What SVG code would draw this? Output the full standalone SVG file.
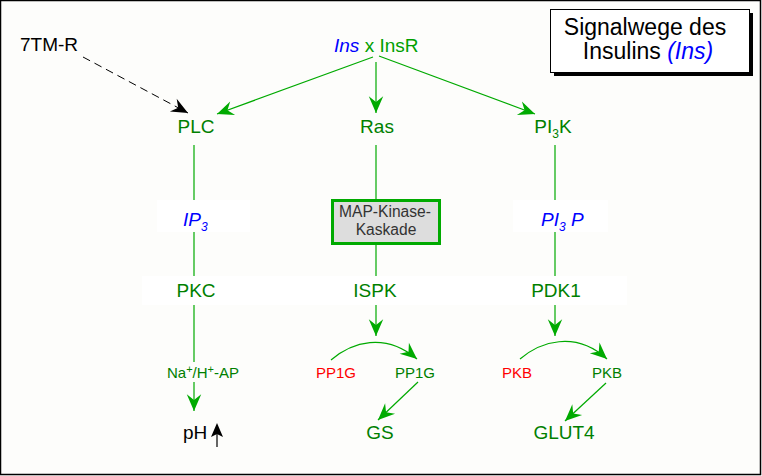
<svg xmlns="http://www.w3.org/2000/svg" width="762" height="476" viewBox="0 0 762 476">
<defs>
<style>
.t{font-family:"Liberation Sans",Arial,sans-serif;}
.g{fill:#008000;font-size:19px;text-anchor:middle;}
.s{font-size:15px;text-anchor:middle;}
.blue{fill:#0000ff;font-style:italic;}
.ln{stroke:#00aa00;stroke-width:1.2;fill:none;}
.lw{fill:#ffffff;}
</style>
<marker id="ag" markerUnits="userSpaceOnUse" markerWidth="20" markerHeight="20" viewBox="-16 -8 18 16" refX="0" refY="0" orient="auto">
<path d="M0,0 L-15,-6.5 L-10,0 L-15,6.5 Z" fill="#00aa00"/>
</marker>
<marker id="ab" markerUnits="userSpaceOnUse" markerWidth="20" markerHeight="20" viewBox="-16 -8 18 16" refX="0" refY="0" orient="auto">
<path d="M0,0 L-15,-6.5 L-10,0 L-15,6.5 Z" fill="#000000"/>
</marker>
</defs>
<rect x="0" y="0" width="762" height="476" fill="#fdfdfb"/>
<rect x="0.5" y="0.5" width="760" height="474" fill="none" stroke="#000" stroke-width="1.5"/>

<g id="connectors">
<line class="ln" x1="373" y1="57" x2="217" y2="114" marker-end="url(#ag)"/>
<line class="ln" x1="376" y1="62" x2="376" y2="113" marker-end="url(#ag)"/>
<line class="ln" x1="379" y1="56" x2="535" y2="114" marker-end="url(#ag)"/>
<line x1="83" y1="57" x2="188" y2="113" stroke="#000" stroke-width="1" stroke-dasharray="8,5" marker-end="url(#ab)"/>
<line class="ln" x1="194" y1="145" x2="194" y2="362"/>
<line class="ln" x1="194" y1="382" x2="194" y2="411" marker-end="url(#ag)"/>
<line class="ln" x1="376" y1="145" x2="376" y2="336" marker-end="url(#ag)"/>
<line class="ln" x1="555" y1="145" x2="555" y2="336" marker-end="url(#ag)"/>
<path class="ln" d="M331,360 C352,342 385,332 417,359" marker-end="url(#ag)"/>
<path class="ln" d="M520,359 C540,342 575,330 607,359" marker-end="url(#ag)"/>
<line class="ln" x1="418" y1="382" x2="378" y2="420" marker-end="url(#ag)"/>
<line class="ln" x1="606" y1="383" x2="565" y2="421" marker-end="url(#ag)"/>
<line x1="217" y1="447" x2="217" y2="430" stroke="#000" stroke-width="1.2"/>
<path d="M217,423 L223,437 L217,434 L211,437 Z" fill="#000"/>
</g>

<g id="title">
<rect x="554" y="13" width="199" height="63" fill="#000"/>
<rect x="550.5" y="9.5" width="199" height="63" fill="#fff" stroke="#000" stroke-width="1"/>
<text class="t" x="645" y="35" font-size="23" text-anchor="middle" fill="#000">Signalwege des</text>
<text class="t" x="648" y="59" font-size="23" text-anchor="middle" fill="#000">Insulins <tspan fill="#0000ff" font-style="italic">(Ins)</tspan></text>
</g>

<g id="n-7tmr"><text class="t" x="20" y="51" font-size="19" fill="#000">7TM-R</text></g>
<g id="n-insr"><text class="t" x="334" y="52" font-size="19"><tspan class="blue">Ins</tspan><tspan fill="#00a000"> x InsR</tspan></text></g>

<g id="n-plc"><text class="t g" x="196" y="133">PLC</text></g>
<g id="n-ras"><text class="t g" x="377" y="133">Ras</text></g>
<g id="n-pi3k"><text class="t g" x="553" y="133">PI<tspan font-size="12" dy="5">3</tspan><tspan dy="-5">K</tspan></text></g>

<g id="n-ip3">
<rect class="lw" x="157" y="200" width="93" height="32"/>
<text class="t" x="183" y="226" font-size="19" fill="#0000ff" font-style="italic">IP<tspan font-size="12" dy="5">3</tspan></text>
</g>
<g id="n-map">
<rect x="332.5" y="200.5" width="107" height="43" fill="#dddddd" stroke="#00aa00" stroke-width="3"/>
<text class="t" x="385" y="217" font-size="15.6" text-anchor="middle" fill="#333">MAP-Kinase-</text>
<text class="t" x="386" y="235" font-size="15.6" text-anchor="middle" fill="#333">Kaskade</text>
</g>
<g id="n-pi3p">
<rect class="lw" x="513" y="200" width="95" height="32"/>
<text class="t" x="541" y="226" font-size="19" fill="#0000ff" font-style="italic">PI<tspan font-size="12" dy="5">3</tspan><tspan dy="-5"> P</tspan></text>
</g>

<rect class="lw" x="142" y="276" width="485" height="29"/>
<g id="n-pkc"><text class="t g" x="196" y="297">PKC</text></g>
<g id="n-ispk"><text class="t g" x="375" y="297">ISPK</text></g>
<g id="n-pdk1"><text class="t g" x="556" y="297">PDK1</text></g>

<g id="n-nahap"><text class="t s" x="203" y="378" fill="#008000">Na<tspan font-size="11" dy="-5">+</tspan><tspan dy="5">/H</tspan><tspan font-size="11" dy="-5">+</tspan><tspan dy="5">-AP</tspan></text></g>
<g id="n-pp1g-r"><text class="t s" x="336" y="378" fill="#ff0000">PP1G</text></g>
<g id="n-pp1g-g"><text class="t s" x="415" y="378" fill="#008000">PP1G</text></g>
<g id="n-pkb-r"><text class="t s" x="517" y="378" fill="#ff0000">PKB</text></g>
<g id="n-pkb-g"><text class="t s" x="607" y="378" fill="#008000">PKB</text></g>

<g id="n-ph"><text class="t" x="183" y="439" font-size="19" fill="#000">pH</text></g>
<g id="n-gs"><text class="t g" x="380" y="439">GS</text></g>
<g id="n-glut4"><text class="t g" x="564" y="439">GLUT4</text></g>
</svg>
